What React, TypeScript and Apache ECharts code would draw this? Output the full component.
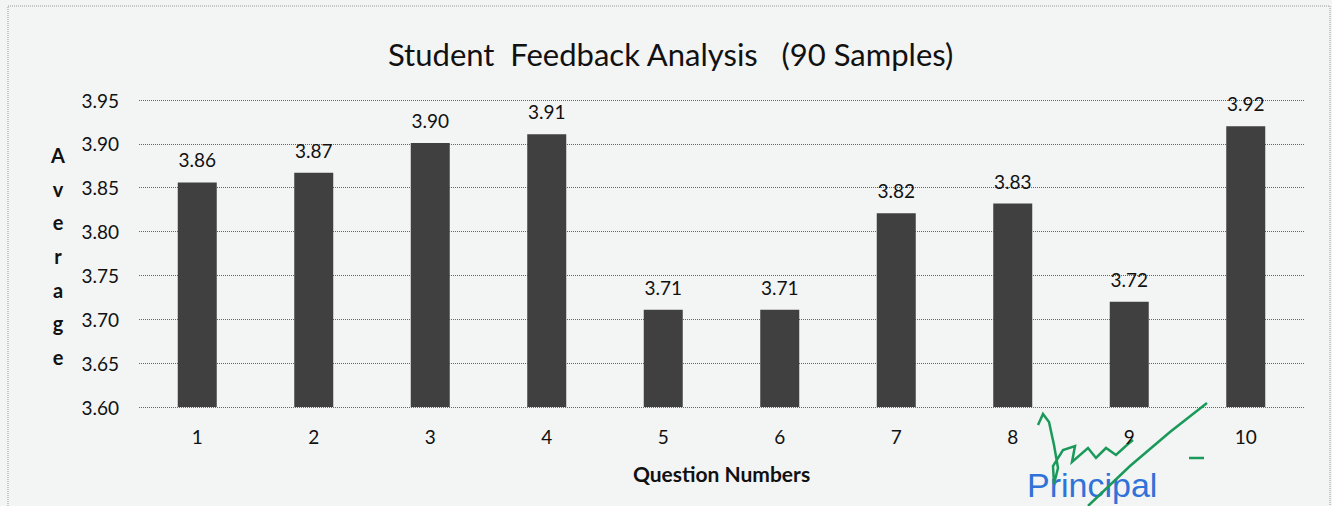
import React, { useEffect, useRef } from "react";
import * as echarts from "echarts";

const categories = ["1", "2", "3", "4", "5", "6", "7", "8", "9", "10"];
const averages = [3.856, 3.867, 3.901, 3.911, 3.711, 3.711, 3.821, 3.832, 3.72, 3.92];
const yTicks = { min: 3.6, max: 3.95, interval: 0.05 };
const titleText = "Student  Feedback Analysis   (90 Samples)";
const xName = "Question Numbers";
const yName = "Average";

export default function App() {
  const ref = useRef<HTMLDivElement>(null);
  useEffect(() => {
    document.body.style.margin = "0";
    const chart = echarts.init(ref.current!, null, { renderer: "svg" });
    const font = "Lato, 'Open Sans', sans-serif";
    const green = "#1a9a5a";
    chart.setOption({
      animation: false,
      backgroundColor: "#f3f4f4",
      title: {
        text: titleText,
        left: 383,
        top: 33,
        textStyle: { fontFamily: font, fontSize: 31, fontWeight: "normal", color: "#111" },
      },
      grid: { left: 139, right: 28, top: 100, bottom: 99, containLabel: false },
      xAxis: {
        type: "category",
        data: categories,
        name: xName,
        nameLocation: "middle",
        nameGap: 56,
        nameTextStyle: { fontFamily: font, fontSize: 21, fontWeight: "bold", color: "#111" },
        axisLine: { show: false },
        axisTick: { show: false },
        axisLabel: { fontFamily: font, fontSize: 19, color: "#111", margin: 20 },
      },
      yAxis: {
        type: "value",
        min: yTicks.min,
        max: yTicks.max,
        interval: yTicks.interval,
        axisLabel: {
          fontFamily: font,
          fontSize: 19,
          color: "#111",
          margin: 20,
          formatter: (v: number) => v.toFixed(2),
        },
        splitLine: { lineStyle: { color: "#666", type: [1, 1], width: 1 } },
        axisLine: { show: false },
        axisTick: { show: false },
      },
      series: [
        {
          type: "bar",
          data: averages,
          barWidth: 39,
          itemStyle: { color: "#404040" },
          label: {
            show: true,
            position: "top",
            distance: 13,
            fontFamily: font,
            fontSize: 19,
            color: "#111",
            formatter: (p: any) => Number(p.value).toFixed(2),
          },
        },
      ],
      graphic: [
        {
          type: "rect",
          shape: { x: 8, y: 6, width: 1322, height: 510 },
          style: { fill: "none", stroke: "#999", lineWidth: 1, lineDash: [1, 1] },
          silent: true,
        },
        {
          type: "text",
          x: 58,
          y: 256,
          style: {
            text: yName.split("").join("\n"),
            fontFamily: font,
            fontSize: 20,
            fontWeight: "bold",
            fill: "#111",
            lineHeight: 33.7,
            align: "center",
            verticalAlign: "middle",
          },
        },
        {
          type: "text",
          x: 1027,
          y: 468,
          style: { text: "Principal", fontFamily: "'Liberation Sans', Arial, sans-serif", fontSize: 34, fill: "#2f72d8" },
        },
        {
          type: "polyline",
          shape: { points: [[1207, 403], [1170, 432], [1130, 466], [1088, 506]] },
          style: { stroke: green, lineWidth: 2.5, fill: "none" },
        },
        {
          type: "polyline",
          shape: { points: [[1189, 458], [1204, 458]] },
          style: { stroke: green, lineWidth: 2.5, fill: "none" },
        },
        {
          type: "polyline",
          smooth: true,
          shape: {
            points: [
              [1038, 425], [1043, 414], [1049, 422], [1054, 445], [1058, 468],
              [1054, 484], [1053, 466], [1063, 450], [1075, 446], [1072, 462],
              [1088, 448], [1096, 458], [1106, 448], [1116, 455], [1128, 444], [1133, 440],
            ],
          },
          style: { stroke: green, lineWidth: 2.5, fill: "none" },
        },
      ],
    });
    return () => chart.dispose();
  }, []);
  return <div ref={ref} style={{ width: 1332, height: 506 }} />;
}
